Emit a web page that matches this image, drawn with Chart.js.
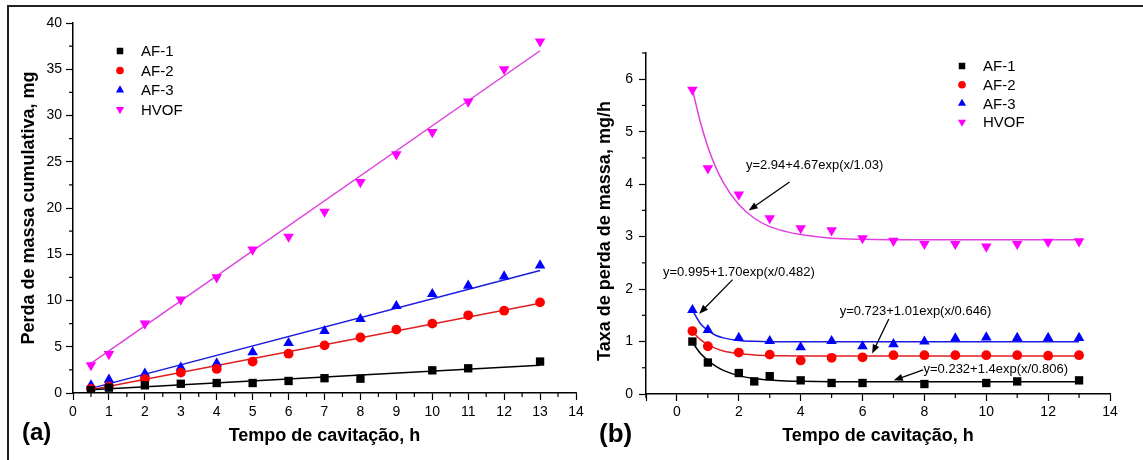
<!DOCTYPE html>
<html>
<head>
<meta charset="utf-8">
<script src="https://cdn.jsdelivr.net/npm/chart.js@4.4.1/dist/chart.umd.min.js"></script>
<style>
  body { margin: 0; background: #fff; }
  #wrap { position: relative; width: 1143px; height: 460px; overflow: hidden; font-family: 'Liberation Sans', Arial, sans-serif; }
  #frame { position: absolute; left: 7px; top: 5px; width: 1140px; height: 460px; border-top: 2px solid #222; border-left: 2px solid #222; }
  canvas { position: absolute; top: 0; }
  .lbl { position: absolute; font-weight: bold; color: #000; }
</style>
</head>
<body>
<div id="wrap">
  <div id="frame"></div>
  <canvas id="chartA" width="590" height="460" style="left:0"></canvas>
  <canvas id="chartB" width="553" height="460" style="left:590px"></canvas>
  <div class="lbl" style="left:22px;top:418px;font-size:24px">(a)</div>
  <div class="lbl" style="left:599px;top:418px;font-size:26px">(b)</div>
</div>
<script>
const seriesNames = ['AF-1', 'AF-2', 'AF-3', 'HVOF'];

// (a) perda de massa cumulativa, mg
const timeA1 = [0.5, 1, 2, 3, 4, 5, 6, 7, 8, 10, 11, 13];
const massAF1 = [0.3, 0.58, 0.83, 1.0, 1.08, 1.08, 1.3, 1.6, 1.55, 2.45, 2.67, 3.4];
const timeA = [0.5, 1, 2, 3, 4, 5, 6, 7, 8, 9, 10, 11, 12, 13];
const massAF2 = [0.45, 0.72, 1.5, 2.2, 2.6, 3.4, 4.25, 5.15, 6.0, 6.85, 7.5, 8.4, 8.9, 9.8];
const massAF3 = [0.83, 1.45, 2.1, 2.75, 3.2, 4.4, 5.4, 6.7, 8.0, 9.4, 10.7, 11.6, 12.6, 13.8];
const massHVOF = [3.0, 4.2, 7.5, 10.1, 12.5, 15.5, 16.9, 19.6, 22.8, 25.8, 28.2, 31.5, 35.0, 38.0];
// linhas de ajuste (inicio / fim)
const fitTimeA = [0.5, 13];
const fitAF1 = [0.35, 3.0];
const fitAF2 = [0.35, 9.7];
const fitAF3 = [0.5, 13.25];
const fitHVOF = [3.2, 37.0];

// (b) taxa de perda de massa, mg/h
const timeB1 = [0.5, 1, 2, 2.5, 3, 4, 5, 6, 8, 10, 11, 13];
const rateAF1 = [1.0, 0.6, 0.4, 0.24, 0.34, 0.26, 0.21, 0.21, 0.19, 0.21, 0.24, 0.26];
const timeB = [0.5, 1, 2, 3, 4, 5, 6, 7, 8, 9, 10, 11, 12, 13];
const rateAF2 = [1.2, 0.91, 0.79, 0.75, 0.64, 0.69, 0.70, 0.74, 0.74, 0.74, 0.74, 0.74, 0.73, 0.74];
const rateAF3 = [1.6, 1.22, 1.07, 1.01, 0.89, 1.01, 0.91, 0.95, 1.0, 1.06, 1.08, 1.07, 1.07, 1.07];
const rateHVOF = [5.8, 4.3, 3.8, 3.35, 3.16, 3.12, 2.97, 2.92, 2.86, 2.86, 2.81, 2.86, 2.9, 2.91];
// curvas de ajuste
const curveTime = [0.5, 0.75, 1, 1.25, 1.5, 2, 2.5, 3, 3.5, 4, 5, 6, 8, 10, 13];
const curveAF1 = [0.985, 0.78, 0.64, 0.53, 0.45, 0.35, 0.295, 0.266, 0.25, 0.242, 0.235, 0.233, 0.232, 0.232, 0.232];
const curveAF2 = [1.19, 1.04, 0.94, 0.87, 0.82, 0.77, 0.745, 0.733, 0.727, 0.725, 0.723, 0.723, 0.723, 0.723, 0.723];
const curveAF3 = [1.6, 1.35, 1.21, 1.12, 1.07, 1.02, 1.005, 0.998, 0.996, 0.995, 0.995, 0.995, 0.995, 0.995, 0.995];
const curveHVOF = [5.81, 5.2, 4.71, 4.33, 4.03, 3.61, 3.35, 3.19, 3.10, 3.04, 2.97, 2.95, 2.94, 2.94, 2.94];

const equations = ['y=0.232+1.4exp(x/0.806)', 'y=0.723+1.01exp(x/0.646)', 'y=0.995+1.70exp(x/0.482)', 'y=2.94+4.67exp(x/1.03)'];

const colors = ['#000000', '#ff0000', '#0000ff', '#ff00ff'];
const lineColors = ['#000000', '#e02020', '#1a1ae0', '#e040e0'];
const FONT = "'Liberation Sans', Arial, sans-serif";

const xy = (xs, ys) => xs.map((x, i) => ({ x: x, y: ys[i] }));

function marks(i) {
  const styles = [
    { pointStyle: 'rect', pointRadius: 5.9, pointRotation: 0 },
    { pointStyle: 'circle', pointRadius: 4.9, pointRotation: 0 },
    { pointStyle: 'triangle', pointRadius: 6.1, pointRotation: 0 },
    { pointStyle: 'triangle', pointRadius: 6.1, pointRotation: 180 }
  ];
  return Object.assign({ backgroundColor: colors[i], borderColor: colors[i], borderWidth: 0, order: 0 }, styles[i]);
}

function fitLine(i, data) {
  return { data: data, showLine: true, pointRadius: 0, borderColor: lineColors[i], borderWidth: 1.5,
           cubicInterpolationMode: 'monotone', fill: false, order: 1 };
}

// pequenos traços entre os ticks principais
const minorTicks = {
  id: 'minorTicks',
  afterDraw(chart, args, opts) {
    const ctx = chart.ctx;
    ctx.save();
    ctx.strokeStyle = '#000';
    ctx.lineWidth = 1.2;
    ['x', 'y'].forEach(id => {
      if (!opts[id]) return;
      const [step, major] = opts[id];
      const sc = chart.scales[id];
      for (let v = Math.ceil(sc.min / step) * step; v <= sc.max + 1e-9; v += step) {
        const r = v / major;
        if (Math.abs(r - Math.round(r)) < 1e-6) continue;
        ctx.beginPath();
        if (id === 'x') {
          const px = sc.getPixelForValue(v);
          ctx.moveTo(px, sc.top);
          ctx.lineTo(px, sc.top + 4);
        } else {
          const py = sc.getPixelForValue(v);
          ctx.moveTo(sc.right, py);
          ctx.lineTo(sc.right - 4, py);
        }
        ctx.stroke();
      }
    });
    ctx.restore();
  }
};

// legenda desenhada dentro da area do grafico
const insideLegend = {
  id: 'insideLegend',
  afterDraw(chart, args, opts) {
    const ctx = chart.ctx;
    ctx.save();
    ctx.font = '15px ' + FONT;
    ctx.textBaseline = 'middle';
    ctx.textAlign = 'left';
    seriesNames.forEach((name, i) => {
      const y = opts.y + i * opts.rowH;
      const ds = marks(i);
      ctx.fillStyle = colors[i];
      ctx.strokeStyle = colors[i];
      Chart.helpers.drawPoint(ctx, { pointStyle: ds.pointStyle, radius: ds.pointRadius * 0.78, rotation: ds.pointRotation, borderWidth: 0 }, opts.x, y);
      ctx.fillStyle = '#000';
      ctx.fillText(name, opts.x + 21, y + 1);
    });
    ctx.restore();
  }
};

// equacoes com setas
const equationNotes = {
  id: 'equationNotes',
  afterDraw(chart, args, opts) {
    if (!opts.items) return;
    const ctx = chart.ctx;
    const sx = chart.scales.x, sy = chart.scales.y;
    ctx.save();
    ctx.font = '13px ' + FONT;
    ctx.textBaseline = 'middle';
    ctx.textAlign = 'left';
    opts.items.forEach(it => {
      ctx.fillStyle = '#000';
      ctx.fillText(it.text, sx.getPixelForValue(it.tx), sy.getPixelForValue(it.ty));
      const x1 = sx.getPixelForValue(it.from[0]), y1 = sy.getPixelForValue(it.from[1]);
      const x2 = sx.getPixelForValue(it.to[0]), y2 = sy.getPixelForValue(it.to[1]);
      const a = Math.atan2(y2 - y1, x2 - x1);
      ctx.strokeStyle = '#000';
      ctx.lineWidth = 1.3;
      ctx.beginPath();
      ctx.moveTo(x1, y1);
      ctx.lineTo(x2 - 6 * Math.cos(a), y2 - 6 * Math.sin(a));
      ctx.stroke();
      ctx.beginPath();
      ctx.moveTo(x2, y2);
      ctx.lineTo(x2 - 9 * Math.cos(a) + 3.5 * Math.sin(a), y2 - 9 * Math.sin(a) - 3.5 * Math.cos(a));
      ctx.lineTo(x2 - 9 * Math.cos(a) - 3.5 * Math.sin(a), y2 - 9 * Math.sin(a) + 3.5 * Math.cos(a));
      ctx.closePath();
      ctx.fill();
    });
    ctx.restore();
  }
};

function axis(min, max, step, opts) {
  return {
    type: 'linear', min: min, max: max,
    border: { display: true, color: '#000', width: 1.5 },
    grid: { display: true, drawOnChartArea: false, drawTicks: true, tickLength: 7, tickColor: '#000', tickWidth: 1.2 },
    ticks: { stepSize: step, color: '#000', font: { family: FONT, size: 14 }, padding: opts.pad,
             includeBounds: opts.bounds !== false, maxRotation: 0, autoSkip: false,
             callback: opts.cb || (v => v) },
    title: { display: true, text: opts.title, color: '#000', font: { family: FONT, size: 18, weight: 'bold' }, padding: opts.titlePad },
    afterFit: opts.fit
  };
}

const pointsA = [xy(timeA1, massAF1), xy(timeA, massAF2), xy(timeA, massAF3), xy(timeA, massHVOF)];
const fitsA = [fitAF1, fitAF2, fitAF3, fitHVOF].map(f => xy(fitTimeA, f));

new Chart(document.getElementById('chartA'), {
  type: 'scatter',
  data: {
    datasets: pointsA.map((d, i) => Object.assign({ label: seriesNames[i], data: d }, marks(i)))
      .concat(fitsA.map((d, i) => fitLine(i, d)))
  },
  options: {
    responsive: false, animation: false,
    layout: { padding: { left: 0, top: 23, right: 14, bottom: 0 } },
    plugins: {
      legend: { display: false }, tooltip: { enabled: false },
      minorTicks: { x: [0.5, 1], y: [2.5, 5] },
      insideLegend: { x: 120, y: 51, rowH: 19.5 }
    },
    scales: {
      x: axis(0, 14, 1, { pad: 4, title: 'Tempo de cavitação, h', titlePad: { top: 4, bottom: 13 }, fit: s => { s.height = 67; } }),
      y: axis(0, 40, 5, { pad: 4, title: 'Perda de massa cumulativa, mg', titlePad: { top: 18, bottom: 4 }, fit: s => { s.width = 73; } })
    }
  },
  plugins: [minorTicks, insideLegend]
});

const pointsB = [xy(timeB1, rateAF1), xy(timeB, rateAF2), xy(timeB, rateAF3), xy(timeB, rateHVOF)];
const curvesB = [curveAF1, curveAF2, curveAF3, curveHVOF].map(c => xy(curveTime, c));

new Chart(document.getElementById('chartB'), {
  type: 'scatter',
  data: {
    datasets: pointsB.map((d, i) => Object.assign({ label: seriesNames[i], data: d }, marks(i)))
      .concat(curvesB.map((d, i) => fitLine(i, d)))
  },
  options: {
    responsive: false, animation: false,
    layout: { padding: { left: 0, top: 53, right: 33, bottom: 0 } },
    plugins: {
      legend: { display: false }, tooltip: { enabled: false },
      minorTicks: { x: [1, 2], y: [0.5, 1] },
      insideLegend: { x: 372, y: 66, rowH: 18.7 },
      equationNotes: {
        items: [
          { text: equations[3], tx: 2.23, ty: 4.35, from: [3.64, 4.04], to: [2.32, 3.50] },
          { text: equations[2], tx: -0.45, ty: 2.32, from: [1.80, 2.18], to: [0.72, 1.53] },
          { text: equations[1], tx: 5.26, ty: 1.57, from: [6.85, 1.43], to: [6.31, 0.77] },
          { text: equations[0], tx: 7.97, ty: 0.46, from: [7.96, 0.46], to: [7.01, 0.26] }
        ]
      }
    },
    scales: {
      x: axis(-1, 14, 2, { pad: 3, cb: v => (v < 0 ? '' : v), title: 'Tempo de cavitação, h', titlePad: { top: 4, bottom: 13 }, fit: s => { s.height = 66; } }),
      y: axis(0, 6.5, 1, { pad: 6, bounds: false, title: 'Taxa de perda de massa, mg/h   ', titlePad: { top: 4, bottom: 4 }, fit: s => { s.width = 56; } })
    }
  },
  plugins: [minorTicks, insideLegend, equationNotes]
});
</script>
</body>
</html>
